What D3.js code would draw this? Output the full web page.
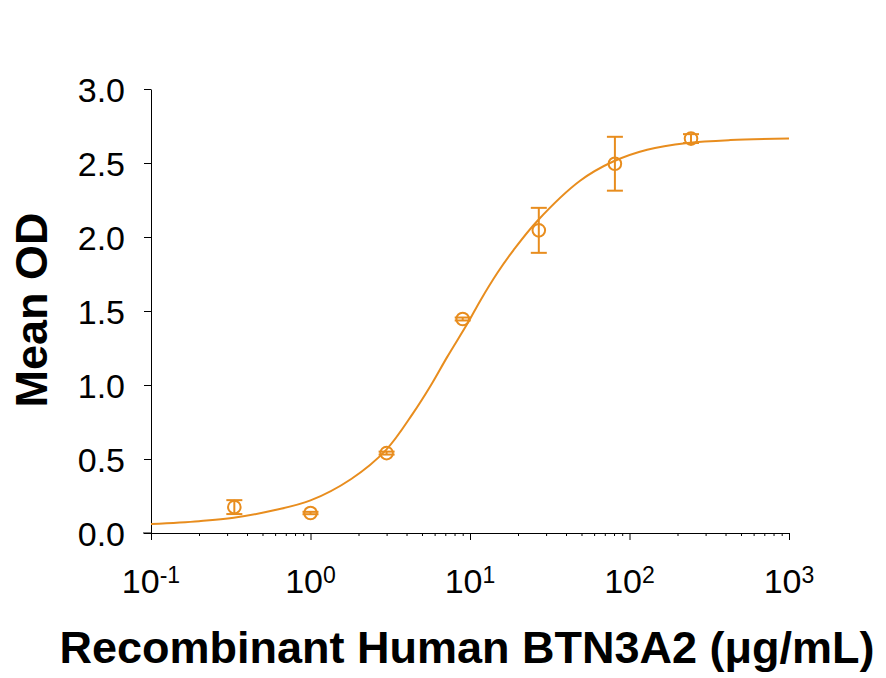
<!DOCTYPE html>
<html>
<head>
<meta charset="utf-8">
<script src="https://cdn.jsdelivr.net/npm/d3@7"></script>
<style>
  body { margin: 0; background: #fff; }
  text { font-family: Arial, "Liberation Sans", sans-serif; }
</style>
</head>
<body>
<div id="chart"></div>
<script>
// measured points (concentration in µg/mL, mean OD, error)
const conc = [0.333, 1, 3, 9, 27, 81, 243];
const meanOD = [0.175, 0.135, 0.54, 1.446, 2.045, 2.495, 2.665];
const errOD = [0.047, 0.008, 0.01, 0.01, 0.152, 0.182, 0.03];

// fitted curve
const fitX = [0.1, 0.2, 0.33, 0.6, 1.0, 1.8, 2.97, 4.4, 5.7, 7.2, 9.7, 11.6, 14.9, 18.7, 26.5, 49, 79, 129, 231, 429, 1000];
const fitY = [0.06, 0.08, 0.103, 0.155, 0.22, 0.365, 0.56, 0.81, 1.0, 1.19, 1.42, 1.57, 1.76, 1.91, 2.11, 2.38, 2.51, 2.59, 2.635, 2.655, 2.665];

// axis ticks
const yTicks = [0, 0.5, 1.0, 1.5, 2.0, 2.5, 3.0];
const xMajor = [0.1, 1, 10, 100, 1000];
const xExp = ["-1", "0", "1", "2", "3"];

const color = "#E88D1E";

const dimensions = {
    width: 886,
    height: 678,
    margin: { top: 89, right: 97, bottom: 145, left: 151 },
};
dimensions.boundedWidth = dimensions.width - dimensions.margin.left - dimensions.margin.right;
dimensions.boundedHeight = dimensions.height - dimensions.margin.top - dimensions.margin.bottom;

const svg = d3.select("#chart")
    .append("svg")
    .attr("width", dimensions.width)
    .attr("height", dimensions.height);

const bounds = svg.append("g")
    .attr("transform", `translate(${dimensions.margin.left},${dimensions.margin.top})`);

const x = d3.scaleLog()
    .domain([0.1, 1000])
    .range([0, 638]);

const y = d3.scaleLinear()
    .domain([0, 3])
    .range([dimensions.boundedHeight, 0]);

// minor ticks 2..9 per decade
const xMinor = [];
xMajor.slice(0, -1).forEach(d => {
    for (let k = 2; k <= 9; k++) xMinor.push(d * k);
});

// axes
const yAxis = bounds.append("g")
    .call(d3.axisLeft(y).tickValues(yTicks).tickFormat(d3.format(".1f"))
        .tickSize(7).tickSizeOuter(0).tickPadding(19));
yAxis.selectAll("text").style("font-size", "34px").attr("fill", "#000").attr("dy", "0.36em");
yAxis.selectAll("line, path").attr("stroke", "#000");

const xAxis = bounds.append("g")
    .attr("transform", `translate(0,${dimensions.boundedHeight})`)
    .call(d3.axisBottom(x).tickValues(xMajor).tickFormat("").tickSize(7).tickSizeOuter(0));
xAxis.selectAll("line, path").attr("stroke", "#000");

bounds.append("g")
    .attr("transform", `translate(0,${dimensions.boundedHeight})`)
    .call(d3.axisBottom(x).tickValues(xMinor).tickFormat("").tickSize(3).tickSizeOuter(0))
    .call(g => g.select(".domain").remove())
    .selectAll("line").attr("stroke", "#000");

// extend x axis a little left of the y axis, as in the original
bounds.append("line")
    .attr("x1", -8).attr("x2", 0)
    .attr("y1", dimensions.boundedHeight).attr("y2", dimensions.boundedHeight)
    .attr("stroke", "#000");

// x tick labels with superscripts
const xLabels = bounds.selectAll("text.xlab")
    .data(xMajor)
    .join("text")
    .attr("class", "xlab")
    .attr("x", d => x(d))
    .attr("y", dimensions.boundedHeight + 60)
    .attr("text-anchor", "middle")
    .attr("fill", "#000");
xLabels.append("tspan").style("font-size", "34px").text("10");
xLabels.append("tspan").style("font-size", "23px").attr("dy", -10).text((d, i) => xExp[i]);

// fitted curve
const line = d3.line()
    .x((d, i) => x(fitX[i]))
    .y(d => y(d))
    .curve(d3.curveCatmullRom.alpha(0.5));

bounds.append("path")
    .datum(fitY)
    .attr("d", line)
    .attr("fill", "none")
    .attr("stroke", color)
    .attr("stroke-width", 2);

// error bars
const bars = bounds.selectAll("g.err")
    .data(conc)
    .join("g")
    .attr("class", "err")
    .attr("stroke", color)
    .attr("stroke-width", 2);

bars.append("line")
    .attr("x1", d => x(d)).attr("x2", d => x(d))
    .attr("y1", (d, i) => y(meanOD[i] + errOD[i]))
    .attr("y2", (d, i) => y(meanOD[i] - errOD[i]));
bars.append("line")
    .attr("x1", d => x(d) - 8).attr("x2", d => x(d) + 8)
    .attr("y1", (d, i) => y(meanOD[i] + errOD[i]))
    .attr("y2", (d, i) => y(meanOD[i] + errOD[i]));
bars.append("line")
    .attr("x1", d => x(d) - 8).attr("x2", d => x(d) + 8)
    .attr("y1", (d, i) => y(meanOD[i] - errOD[i]))
    .attr("y2", (d, i) => y(meanOD[i] - errOD[i]));

// points
bounds.selectAll("circle.pt")
    .data(conc)
    .join("circle")
    .attr("class", "pt")
    .attr("cx", d => x(d))
    .attr("cy", (d, i) => y(meanOD[i]))
    .attr("r", 6.3)
    .attr("fill", "none")
    .attr("stroke", color)
    .attr("stroke-width", 2);

// axis titles
svg.append("text")
    .attr("transform", "translate(47,310) rotate(-90)")
    .attr("text-anchor", "middle")
    .style("font-size", "45px")
    .style("font-weight", "bold")
    .text("Mean OD");

svg.append("text")
    .attr("x", 467)
    .attr("y", 663)
    .attr("text-anchor", "middle")
    .style("font-size", "45px")
    .style("font-weight", "bold")
    .text("Recombinant Human BTN3A2 (μg/mL)");
</script>
</body>
</html>
